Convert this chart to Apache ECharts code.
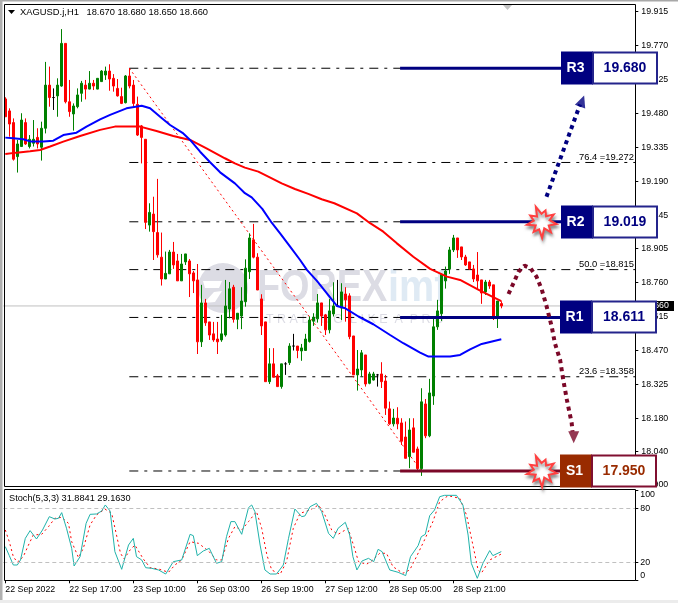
<!DOCTYPE html>
<html><head><meta charset="utf-8">
<style>html,body{margin:0;padding:0;background:#fff}#c{width:678px;height:603px}</style>
<script src="https://cdn.jsdelivr.net/npm/echarts@6/dist/echarts.min.js"></script>
</head><body><div id="c"></div>
<script>
const barOpen=[19.543,19.492,19.442,19.297,19.340,19.442,19.340,19.354,19.379,19.337,19.418,19.602,19.549,19.556,19.598,19.780,19.531,19.479,19.510,19.567,19.602,19.585,19.610,19.585,19.617,19.645,19.662,19.631,19.588,19.553,19.527,19.641,19.602,19.520,19.428,19.371,19.005,19.052,18.973,18.868,18.775,18.797,18.890,18.852,18.767,18.848,18.852,18.801,18.771,18.507,18.673,18.592,18.541,18.519,18.515,18.536,18.647,18.740,18.603,18.617,18.678,18.806,18.942,18.868,18.690,18.592,18.337,18.413,18.362,18.316,18.413,18.418,18.489,18.489,18.468,18.470,18.508,18.595,18.605,18.673,18.622,18.558,18.626,18.660,18.651,18.711,18.703,18.532,18.366,18.387,18.451,18.330,18.344,18.366,18.370,18.340,18.221,18.157,18.181,18.161,18.101,18.017,18.140,18.050,17.966,18.242,18.106,18.276,18.571,18.627,18.767,18.818,18.899,18.950,18.912,18.869,18.848,18.818,18.792,18.771,18.720,18.762,18.750,18.613,18.670];
const barClose=[19.467,19.436,19.286,19.351,19.453,19.351,19.371,19.371,19.351,19.418,19.602,19.549,19.549,19.602,19.780,19.531,19.489,19.513,19.560,19.610,19.585,19.610,19.598,19.631,19.662,19.662,19.628,19.598,19.556,19.524,19.641,19.598,19.524,19.389,19.379,19.017,19.059,18.977,18.878,18.775,18.799,18.890,18.835,18.767,18.839,18.882,18.797,18.767,18.507,18.673,18.588,18.536,18.515,18.507,18.541,18.660,18.733,18.603,18.629,18.681,18.821,18.950,18.868,18.728,18.575,18.337,18.413,18.356,18.316,18.413,18.413,18.489,18.489,18.470,18.481,18.519,18.600,18.612,18.673,18.617,18.558,18.639,18.660,18.660,18.720,18.686,18.529,18.366,18.391,18.460,18.327,18.370,18.370,18.366,18.337,18.224,18.157,18.182,18.157,18.083,18.010,18.131,18.036,17.966,18.251,18.106,18.289,18.571,18.639,18.794,18.809,18.899,18.950,18.899,18.869,18.835,18.818,18.775,18.767,18.715,18.762,18.745,18.609,18.681,18.660];
const barLow=[19.467,19.382,19.280,19.229,19.340,19.347,19.332,19.340,19.332,19.280,19.396,19.510,19.496,19.467,19.595,19.524,19.467,19.408,19.503,19.531,19.541,19.584,19.581,19.584,19.617,19.624,19.578,19.574,19.553,19.521,19.524,19.588,19.510,19.385,19.268,18.988,18.977,18.856,18.866,18.747,18.775,18.797,18.818,18.767,18.767,18.835,18.698,18.715,18.455,18.485,18.575,18.515,18.507,18.455,18.507,18.529,18.607,18.589,18.561,18.561,18.657,18.775,18.863,18.728,18.536,18.337,18.327,18.356,18.316,18.307,18.366,18.408,18.470,18.437,18.426,18.470,18.504,18.575,18.589,18.575,18.536,18.543,18.615,18.657,18.600,18.593,18.518,18.366,18.299,18.359,18.316,18.326,18.342,18.316,18.310,18.195,18.153,18.146,18.134,18.067,18.010,17.968,18.036,17.958,17.935,18.096,18.100,18.238,18.558,18.596,18.734,18.797,18.890,18.865,18.856,18.831,18.814,18.762,18.733,18.669,18.707,18.733,18.600,18.566,18.650];
const barHigh=[19.550,19.503,19.460,19.368,19.482,19.460,19.389,19.453,19.418,19.446,19.701,19.681,19.588,19.631,19.841,19.780,19.624,19.524,19.588,19.620,19.624,19.662,19.624,19.631,19.666,19.681,19.691,19.649,19.628,19.591,19.645,19.674,19.624,19.553,19.432,19.371,19.098,19.126,19.202,18.973,18.892,18.899,18.933,18.882,18.882,18.882,18.860,18.809,18.839,18.750,18.690,18.592,18.592,18.592,18.622,18.771,18.762,18.750,18.629,18.740,18.859,18.970,19.010,18.885,18.710,18.592,18.480,18.480,18.370,18.413,18.420,18.501,18.541,18.489,18.498,18.541,18.615,18.629,18.711,18.673,18.626,18.690,18.761,18.771,18.757,18.740,18.714,18.532,18.472,18.472,18.451,18.379,18.379,18.370,18.420,18.366,18.252,18.221,18.228,18.181,18.167,18.181,18.181,18.060,18.309,18.263,18.349,18.605,18.686,18.798,18.828,18.912,18.963,18.950,18.912,18.878,18.848,18.835,18.890,18.771,18.771,18.771,18.750,18.681,18.680];

const blueMA=[[0,19.378],[2,19.375],[4.5,19.371],[6.2,19.362],[9.5,19.362],[12,19.365],[14.5,19.389],[17.8,19.399],[20.3,19.425],[23.7,19.456],[26.2,19.475],[30.3,19.503],[34.1,19.514],[36.2,19.503],[38.7,19.467],[41.2,19.432],[44.5,19.396],[46.2,19.368],[48.7,19.318],[51.2,19.273],[53.7,19.230],[57.4,19.183],[59.9,19.141],[61.6,19.123],[64.25,19.074],[66.6,19.015],[68.7,18.970],[71.2,18.913],[73.7,18.856],[75.4,18.814],[77.9,18.767],[80.4,18.714],[82.9,18.660],[85,18.650],[88.3,18.615],[92,18.582],[96.2,18.536],[99.5,18.501],[103.7,18.461],[105.8,18.444],[111.2,18.444],[113.7,18.451],[116.2,18.475],[119.1,18.498],[124,18.518]];
const redMA=[[0,19.308],[2.8,19.314],[6.2,19.320],[8.7,19.325],[11.2,19.340],[14.5,19.361],[18.7,19.385],[23.7,19.411],[27.4,19.425],[33.7,19.425],[37.8,19.406],[42,19.385],[46.2,19.368],[50.3,19.332],[54.9,19.290],[57.4,19.268],[59.9,19.250],[63.25,19.233],[65.75,19.212],[69.1,19.183],[72.4,19.159],[75.75,19.138],[79.1,19.115],[82.25,19.098],[87.9,19.055],[91.2,19.013],[94.5,18.977],[97.9,18.927],[102,18.870],[106.2,18.818],[110.4,18.785],[113.7,18.771],[118.7,18.725],[124,18.681]];

const stochMain=[[0,37.4],[1,27.4],[2,17],[3,17],[3.8,22.6],[5,46.6],[6.2,55.2],[7.8,45.9],[9.3,55.9],[11,70.7],[12.4,68.1],[13.3,68.9],[14.1,75.2],[15.3,57.8],[16.6,35.5],[17.2,15.9],[18.7,26.3],[20.2,63.3],[21.2,73.3],[22.8,73.7],[24.1,77],[25,83.7],[26.2,77],[27.4,31.8],[29.1,12.2],[30.8,39.2],[32,46.6],[32.8,26.3],[34.1,22.6],[35.1,14],[36.6,13.3],[38.3,11.5],[40.1,7],[42,20.7],[44.1,22.6],[46.2,51.1],[47,49.6],[48,27.4],[49.5,32.6],[51,35.5],[52.8,18.9],[54.1,20.7],[55.3,48.5],[56.4,65.2],[57.4,65.2],[59.1,51.1],[60.8,80.7],[61.6,83.7],[62.4,76.3],[63.7,39.2],[64.9,11.5],[66.2,7],[67.8,7],[69.5,17],[70.8,46.6],[72.4,79.2],[74.1,70.7],[74.9,71.5],[76.2,81.8],[77.8,85.5],[79.1,76.3],[80.8,52.2],[82,46.6],[83.2,57.8],[85,64.4],[86.1,50.3],[86.9,26.3],[87.9,11.5],[89.2,21.5],[90.8,24.4],[92.1,20.7],[93.2,34.4],[94.2,31.8],[96.1,11.5],[98.2,8.9],[100.1,5.2],[101.3,26.3],[103.2,38.5],[104,48.5],[105,51.1],[106.1,71.8],[107.3,78.1],[108.6,92.9],[109.8,94.4],[112.8,94.4],[114.4,83.7],[115.7,50.3],[116.5,18.9],[118,2.2],[119.4,18.9],[121.1,33],[121.9,27.4],[124,31.9]];
const stochSignal=[[0,55.9],[1,42.9],[2,26.3],[3,20],[4.5,26.3],[5.8,39.2],[7,50.3],[9.1,51.1],[10.8,59.6],[12.4,68.9],[14.1,70],[15.8,63.3],[16.6,42.9],[18.3,25.2],[19.5,35.5],[21.2,61.5],[22.8,72.6],[24.9,79.2],[26.6,74.4],[27.8,50.3],[28.8,30],[29.7,23.7],[31.2,33.7],[32.4,39.2],[34.5,23.7],[36.2,14],[38.3,12.6],[40.8,8.9],[42.4,17],[44.1,22.6],[46.2,42.9],[48.3,41.1],[50.8,32.6],[52.8,22.6],[54.1,22.6],[55.8,46.6],[57.4,59.6],[59.1,55.9],[60.8,65.2],[62.8,76.3],[64.1,57.8],[65.4,28.1],[66.6,11.5],[68.7,6.6],[70.3,20.7],[72,57.8],[73.7,74.4],[76.2,78.1],[78.3,83.7],[79.9,72.6],[81.6,55.9],[83.2,51.1],[85.7,57.8],[87.3,35.5],[88.3,20.7],[90.3,17.8],[91.9,22.6],[93.6,30],[95.3,30],[96.9,15.2],[99.4,7.8],[101.1,11.5],[102.8,26.3],[104.8,44.8],[106.9,65.2],[108.6,87.4],[110.7,94],[113.6,91.1],[115.3,72.6],[116.9,39.2],[118.2,11.5],[119,7.8],[121.1,22.6],[124,29.2]];

const tickLabels=['22 Sep 2022','22 Sep 17:00','23 Sep 10:00','26 Sep 03:00','26 Sep 19:00','27 Sep 12:00','28 Sep 05:00','28 Sep 21:00'];
const priceTicks=[19.915,19.770,19.625,19.480,19.335,19.190,19.045,18.905,18.760,18.615,18.470,18.325,18.180,18.040,17.900];
const stochTicks=[0,20,80,100];
const fibLevels=[19.674,19.272,19.019,18.815,18.611,18.358,17.956];
const fibLabels=[['76.4 =19.272',19.272],['50.0 =18.815',18.815],['23.6 =18.358',18.358]];
const fibTrend=[[31,19.674],[104,17.956]];
const lastPrice=18.660;
const arrowUp=[[135.3,19.126],[143.7,19.520]];
const arrowDown=[[125.8,18.711],[127.4,18.771],[128.3,18.806],[129.8,18.832],[131.3,18.821],[132.8,18.785],[134.1,18.731],[135.3,18.660],[136.6,18.572],[137.4,18.501],[138.7,18.430],[139.5,18.344],[140.4,18.259],[141.6,18.160],[141.8,18.124]];
const levels=[
 {name:'R3',label:'19.680',value:19.674,fill:'#000080',edge:'#24248c',ink:'#000080',line:'#000080'},
 {name:'R2',label:'19.019',value:19.019,fill:'#000080',edge:'#24248c',ink:'#000080',line:'#000080'},
 {name:'R1',label:'18.611',value:18.611,fill:'#000080',edge:'#24248c',ink:'#000080',line:'#000080'},
 {name:'S1',label:'17.950',value:17.956,fill:'#992b00',edge:'#800f30',ink:'#992b00',line:'#7b0828'}
];
const barCount=158;
const font='"Liberation Sans"';

const categories=Array.from({length:barCount},(_,i)=>String(i));
const showTick=i=>i%16===0&&i/16<tickLabels.length;
const chart=echarts.init(document.getElementById('c'),null,{renderer:'canvas'});
const L=3.3,W=632;
const valX=g=>({type:'value',gridIndex:g,min:-0.5,max:157.5,show:false,position:'top',splitLine:{show:false},axisLine:{onZero:false}});
const overlay=(data,style,extra)=>Object.assign({type:'line',xAxisIndex:1,yAxisIndex:0,data,showSymbol:false,symbol:'none',silent:true,animation:false,lineStyle:style,z:3},extra||{});
const series=[];
series.push(overlay([[-0.5,lastPrice],[157.5,lastPrice]],{color:'#c0c0c0',width:1},{z:1}));
fibLevels.forEach(v=>series.push(overlay([[31,v],[157.5,v]],{color:'#000',width:1,type:[9,6,3,6]},{z:1})));
series.push(overlay(fibTrend,{color:'#ff0000',width:1,type:[2,3]},{z:1}));
series.push({type:'candlestick',xAxisIndex:0,yAxisIndex:0,barWidth:3,animation:false,silent:true,z:2,
 data:barOpen.map((o,i)=>[o,barClose[i],barLow[i],barHigh[i]]),
 itemStyle:{color:'#008000',color0:'#ff0000',borderColor:'#008000',borderColor0:'#ff0000',borderColorDoji:'#000000',borderWidth:1}});
series.push(overlay(redMA,{color:'#ff0000',width:2},{z:4}));
series.push(overlay(blueMA,{color:'#0000ff',width:2},{z:4}));
levels.forEach(l=>series.push(overlay([[98.7,l.value],[139,l.value]],{color:l.line,width:3},{z:5})));
series.push(overlay(arrowUp,{color:'#000080',width:4,type:[4,4]},{z:5}));
series.push(overlay(arrowDown,{color:'#7b0828',width:4,type:[4,4]},{z:5}));
series.push({type:'scatter',xAxisIndex:1,yAxisIndex:0,z:5,silent:true,animation:false,symbol:'triangle',symbolSize:[11,12],symbolRotate:-20,itemStyle:{color:'#000080'},data:[[144.2,19.534]]});
series.push({type:'scatter',xAxisIndex:1,yAxisIndex:0,z:5,silent:true,animation:false,symbol:'triangle',symbolSize:[11,12],symbolRotate:180,itemStyle:{color:'#7b0828'},data:[[142.1,18.100]]});
series.push({type:'line',xAxisIndex:3,yAxisIndex:1,data:stochSignal,symbol:'none',silent:true,animation:false,lineStyle:{color:'#ff0000',width:1,type:[2,3]},z:3,
 markLine:{silent:true,symbol:'none',animation:false,label:{show:false},lineStyle:{color:'#c0c0c0',width:1,type:[4,3]},data:[{yAxis:80},{yAxis:20}]}});
series.push({type:'line',xAxisIndex:3,yAxisIndex:1,data:stochMain,symbol:'none',silent:true,animation:false,lineStyle:{color:'#20b2aa',width:1},z:4});

chart.setOption({
 animation:false,
 grid:[{left:L,width:W,top:4,height:482},{left:L,width:W,top:490.3,height:90}],
 xAxis:[
  {type:'category',gridIndex:0,data:categories,show:false,axisLine:{onZero:false}},
  valX(0),
  {type:'category',gridIndex:1,data:categories,position:'bottom',axisLine:{show:false,onZero:false},
   axisTick:{show:true,length:3,alignWithLabel:true,interval:i=>showTick(i),lineStyle:{color:'#000'}},
   axisLabel:{show:true,interval:i=>showTick(i),formatter:(v,i)=>tickLabels[i/16]||'',align:'left',margin:5,fontFamily:font,fontSize:8.8,color:'#000'},splitLine:{show:false}},
  valX(1)
 ],
 yAxis:[
  {type:'value',gridIndex:0,position:'right',min:17.892,max:19.948,scale:true,splitLine:{show:false},axisLine:{show:false,onZero:false},
   axisTick:{show:true,length:3,customValues:priceTicks,lineStyle:{color:'#000'}},
   axisLabel:{show:true,customValues:priceTicks,formatter:v=>v.toFixed(3),margin:6,fontFamily:font,fontSize:8.8,color:'#000'}},
  {type:'value',gridIndex:1,position:'right',min:0,max:100,splitLine:{show:false},axisLine:{show:false,onZero:false},
   axisTick:{show:true,length:3,customValues:stochTicks,lineStyle:{color:'#000'}},
   axisLabel:{show:true,customValues:stochTicks,margin:5,fontFamily:font,fontSize:8.8,color:'#000',verticalAlignMinLabel:'bottom',verticalAlignMaxLabel:'top'}}
 ],
 series
});

const yOf=v=>chart.convertToPixel({yAxisIndex:0},v);
const g=[];
const rect=(x,y,w,h,fill,z,stroke,lw)=>g.push({type:'rect',shape:{x,y,width:w,height:h},style:{fill:fill||'none',stroke:stroke||'none',lineWidth:lw||0},z,silent:true});
const text=(x,y,t,f,fill,z,align,vb)=>g.push({type:'text',x,y,style:{text:t,font:f,fill,align:align||'left',verticalAlign:vb||'middle'},z,silent:true});
// window edges
rect(0,0,678,1.5,'#a8a8a8',60); rect(0,0,2.5,603,'#b0b0b0',60); rect(0,600,678,3,'#ececec',60);
// watermark
g.push({type:'circle',shape:{cx:223,cy:288,r:25},style:{fill:'#dcdce4'},z:0,silent:true});
g.push({type:'polygon',shape:{points:[[203,281],[222,281],[219,288],[205,288]]},style:{fill:'#fff'},z:0,silent:true});
g.push({type:'polygon',shape:{points:[[204,303],[214,292],[222,291],[215,302]]},style:{fill:'#fff'},z:0,silent:true});
g.push({type:'text',x:257,y:289,scaleX:.86,style:{text:'FOREX',font:'bold 44px '+font,fill:'#dcdce4',verticalAlign:'middle'},z:0,silent:true});
g.push({type:'text',x:388,y:289,scaleX:.9,style:{text:'imf',font:'bold 44px '+font,fill:'#dfeaf4',verticalAlign:'middle'},z:0,silent:true});
g.push({type:'text',x:266,y:320,style:{text:'T R A D I N G  L I K E  A  P R O',font:'12.5px '+font,fill:'#dcdce4',verticalAlign:'middle'},z:0,silent:true});
// frames
rect(4.5,4.5,631,482,null,30,'#000',1);
rect(4.5,489.5,631,91,null,30,'#000',1);
// top marker + title
g.push({type:'polygon',shape:{points:[[503,5],[512,5],[507.5,10]]},style:{fill:'#c4c4c4'},z:6,silent:true});
g.push({type:'polygon',shape:{points:[[8,10],[15,10],[11.5,14]]},style:{fill:'#000'},z:6,silent:true});
text(20,12.5,'XAGUSD.j,H1',"9.4px "+font,'#000',6);
text(86.5,12.5,'18.670 18.680 18.650 18.660',"9.3px "+font,'#000',6);
text(9,498,'Stoch(5,3,3) 31.8841 29.1630',"9.2px "+font,'#000',6);
// fib texts
fibLabels.forEach(([t,v])=>text(634,yOf(v)-5.5,t,"9.4px "+font,'#000',6,'right'));
// last price tag
rect(636,yOf(lastPrice)-5,38,10,'#000',35);
text(642,yOf(lastPrice),lastPrice.toFixed(3),"8.8px "+font,'#fff',36);
// stars
const starR=[15,8,14,7,16,8,13,7,15,8,13,7,16,8,12,7,14,8];
const starPts=(cx,cy)=>starR.map((r,i)=>{const a=i/starR.length*Math.PI*2+0.15;return [cx+r*Math.cos(a),cy+r*Math.sin(a)];});
// boxes
levels.forEach(l=>{
 const cy=yOf(l.value);
 const x=l.name==='R1'||l.name==='S1'?560:561, top=Math.round(cy)-16.5;
 rect(x,top,32,33,l.fill,50);
 rect(x+32,top+1,64,31,'#fff',50,l.edge,2);
 text(x+14.5,cy,l.name,'bold 14px '+font,'#fff',51,'center');
 text(x+64,cy,l.label,'bold 14px '+font,l.ink,51,'center');
 if(l.name==='R2'||l.name==='S1'){
  g.push({type:'polygon',shape:{points:starPts(541.7,yOf(l.value))},style:{fill:'#fff',stroke:'#ff4040',lineWidth:2,shadowBlur:3,shadowColor:'rgba(90,90,90,.6)',shadowOffsetX:1,shadowOffsetY:3},z:45,silent:true});
 }
});
chart.setOption({graphic:{elements:g}});
</script></body></html>
